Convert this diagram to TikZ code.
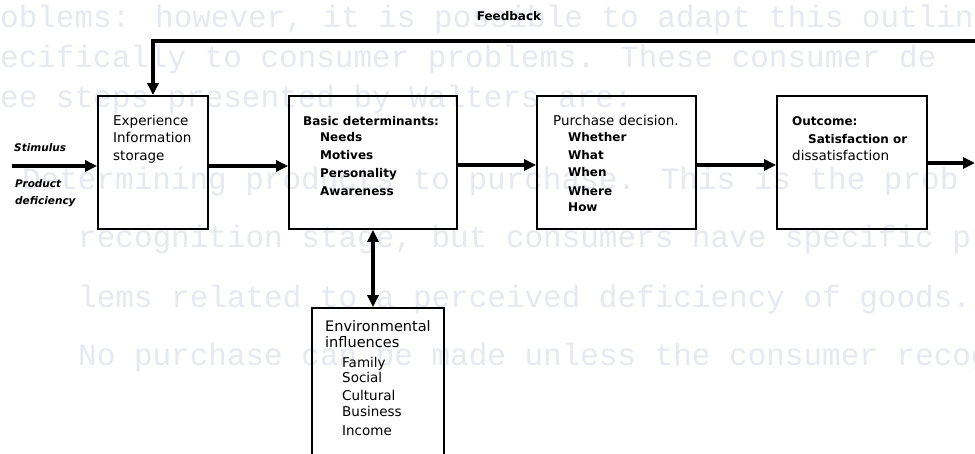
\documentclass[tikz,border=0pt]{standalone}
\usepackage{fontspec}
\setmainfont{DejaVu Sans}
\newfontfamily\bgmono{Liberation Mono}
\usetikzlibrary{arrows.meta}
\definecolor{ghost}{RGB}{230,233,239}
\newcommand{\regf}{\fontsize{13.5}{16}\selectfont}
\newcommand{\bldf}{\bfseries\fontsize{12}{14}\selectfont}
\newcommand{\envf}{\fontsize{14.5}{16}\selectfont}
\newcommand{\handf}{\bfseries\itshape\fontsize{10.5}{12}\selectfont}
\begin{document}
\begin{tikzpicture}[x=1pt,y=-1pt,
  box/.style={draw, line width=1.8pt, inner sep=0pt},
  txt/.style={anchor=base west, inner sep=0pt},
  bg/.style={anchor=base west, inner sep=0pt, text=ghost, font=\bgmono\fontsize{31}{32}\selectfont},
  tip/.tip={Triangle[length=12pt,width=11pt]},
  bigarrow/.style={line width=3.2pt, -tip},
  thickline/.style={line width=3.2pt}]
\useasboundingbox (0,0) rectangle (975,454);
\clip (0,0) rectangle (975,454);
\fill[white] (0,0) rectangle (975,454);

% faint bleed-through typewriter text
\node[bg] (g1) at (0,28)  {oblems: however, it is possible to adapt this outline};
\node[bg] (g2) at (0,68)  {ecifically to consumer problems.  These consumer de};
\node[bg] (g3) at (0,108) {ee steps presented by Walters are:};
\node[bg] (g4) at (22,190) {Determining products to purchase.  This is the prob};
\node[bg] (g5) at (78,248) {recognition stage, but consumers have specific pro};
\node[bg] (g6) at (78,308) {lems related to a perceived deficiency of goods.};
\node[bg] (g7) at (78,366) {No purchase can be made unless the consumer recog};

% boxes
\node[box, minimum width=110pt, minimum height=133pt] (b1) at (153,162.5) {};
\node[box, minimum width=168pt, minimum height=133pt] (b2) at (373,162.5) {};
\node[box, minimum width=159pt, minimum height=133pt] (b3) at (616.5,162.5) {};
\node[box, minimum width=150pt, minimum height=133pt] (b4) at (852,162.5) {};
\node[box, minimum width=132pt, minimum height=162pt] (b5) at (378,389) {};

% box texts
\node[txt, font=\regf] (b1a) at (113,126) {Experience};
\node[txt, font=\regf] (b1b) at (113,143) {Information};
\node[txt, font=\regf] (b1c) at (113,161) {storage};

\node[txt, font=\bldf] (b2a) at (303,126) {Basic determinants:};
\node[txt, font=\bldf] (b2b) at (320,142) {Needs};
\node[txt, font=\bldf] (b2c) at (320,160) {Motives};
\node[txt, font=\bldf] (b2d) at (320,178) {Personality};
\node[txt, font=\bldf] (b2e) at (320,196) {Awareness};

\node[txt, font=\regf] (b3a) at (553,126) {Purchase decision.};
\node[txt, font=\bldf] (b3b) at (568,142) {Whether};
\node[txt, font=\bldf] (b3c) at (568,160) {What};
\node[txt, font=\bldf] (b3d) at (568,177) {When};
\node[txt, font=\bldf] (b3e) at (568,196) {Where};
\node[txt, font=\bldf] (b3f) at (568,212) {How};

\node[txt, font=\bldf] (b4a) at (792,126) {Outcome:};
\node[txt, font=\bldf] (b4b) at (808,144) {Satisfaction or};
\node[txt, font=\regf] (b4c) at (792,161) {dissatisfaction};

\node[txt, font=\envf] (b5a) at (325,332) {Environmental};
\node[txt, font=\envf] (b5b) at (325,348) {influences};
\node[txt, font=\regf] (b5c) at (342,367) {Family};
\node[txt, font=\regf] (b5d) at (342,383) {Social};
\node[txt, font=\regf] (b5e) at (342,400) {Cultural};
\node[txt, font=\regf] (b5f) at (342,417) {Business};
\node[txt, font=\regf] (b5g) at (342,435) {Income};

% labels
\node[font=\bldf, inner sep=0pt] (fb) at (509,16) {Feedback};
\node[txt, font=\handf] (st) at (14,152) {Stimulus};
\node[txt, font=\handf] (pr) at (15,188) {Product};
\node[txt, font=\handf] (de) at (15,205) {deficiency};

% connectors
\coordinate (stimS) at (12,166);
\coordinate (outR) at (975,163);
\coordinate (fbR) at (985,41);
\coordinate (fbL) at (153,41);
\draw[bigarrow] (stimS) -- (stimS -| b1.west);
\draw[bigarrow] ([yshift=-3.5pt]b1.east) -- ([yshift=-3.5pt]b2.west);
\draw[bigarrow] ([yshift=-2.5pt]b2.east) -- ([yshift=-2.5pt]b3.west);
\draw[bigarrow] ([yshift=-2.5pt]b3.east) -- ([yshift=-2.5pt]b4.west);
\draw[bigarrow] (b4.east |- outR) -- (outR);
\draw[bigarrow] (fbR) -- (fbL) -- (b1.north);
\draw[thickline, tip-tip] (b2.south) -- (b2.south |- b5.north);
\end{tikzpicture}
\end{document}
